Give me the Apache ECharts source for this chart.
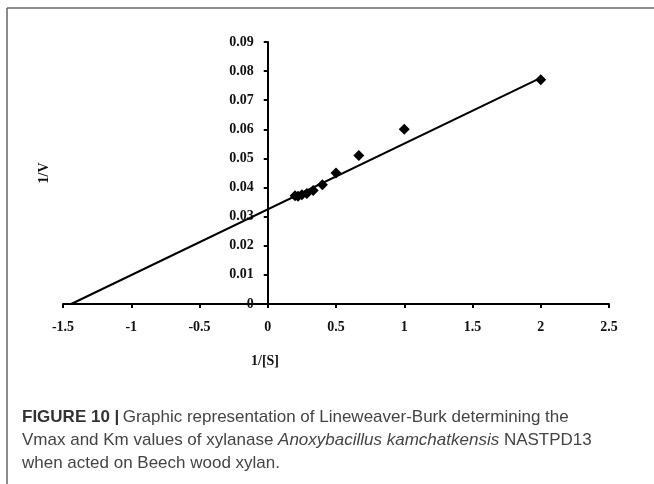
<!DOCTYPE html>
<html>
<head>
<meta charset="utf-8">
<script src="https://cdn.jsdelivr.net/npm/echarts@6/dist/echarts.min.js"></script>
<style>
  html, body { margin: 0; padding: 0; background: #fff; }
  #chart { width: 654px; height: 484px; }
</style>
</head>
<body>
<div id="chart"></div>
<script>
// Lineweaver-Burk plot: reciprocal substrate concentration vs reciprocal velocity
const inverseS = [2, 1, 0.667, 0.5, 0.4, 0.333, 0.286, 0.25, 0.222, 0.2];
const inverseV = [0.077, 0.060, 0.051, 0.045, 0.041, 0.039, 0.038, 0.0375, 0.037, 0.0372];

// Linear fit endpoints: x-intercept (-1/Km) up to the last measured point
const fitX = [-1.44, 2];
const fitY = [0, 0.0777];

const xTicks = { min: -1.5, max: 2.5, step: 0.5 };
const yTicks = { min: 0, max: 0.09, step: 0.01 };

const captionLines = [
  'Graphic representation of Lineweaver-Burk determining the',
  'Vmax and Km values of xylanase ',
  'when acted on Beech wood xylan.'
];

const serif = '"Liberation Serif", "Times New Roman", serif';
const sans = '"Liberation Sans", Arial, Helvetica, sans-serif';

const gridLeft = 63, gridWidth = 546;
// horizontal distance from the grid's left edge to x = 0, where the y axis crosses
const zeroOffset = gridWidth * (0 - xTicks.min) / (xTicks.max - xTicks.min);

const chart = echarts.init(document.getElementById('chart'), null, { renderer: 'canvas' });

chart.setOption({
  animation: false,
  backgroundColor: '#fff',
  grid: { left: gridLeft, top: 42, width: gridWidth, height: 262, containLabel: false, outerBoundsMode: 'none' },
  xAxis: {
    type: 'value',
    min: xTicks.min,
    max: xTicks.max,
    interval: xTicks.step,
    splitLine: { show: false },
    axisLine: { show: true, onZero: true, lineStyle: { color: '#000', width: 2 } },
    axisTick: { show: true, inside: false, length: 4, lineStyle: { color: '#000', width: 2 } },
    axisLabel: {
      margin: 16,
      color: '#111',
      fontFamily: serif,
      fontWeight: 'bold',
      fontSize: 14,
      formatter: v => String(Number(v.toFixed(2)))
    }
  },
  yAxis: {
    type: 'value',
    min: yTicks.min,
    max: yTicks.max,
    interval: yTicks.step,
    offset: -zeroOffset,
    name: '1/V',
    nameLocation: 'middle',
    nameRotate: 90,
    nameGap: 216,
    nameTextStyle: { color: '#111', fontFamily: serif, fontWeight: 'bold', fontSize: 14 },
    splitLine: { show: false },
    axisLine: { show: true, onZero: false, lineStyle: { color: '#000', width: 2 } },
    axisTick: { show: true, inside: false, length: 4, lineStyle: { color: '#000', width: 2 } },
    axisLabel: {
      margin: 14,
      color: '#111',
      fontFamily: serif,
      fontWeight: 'bold',
      fontSize: 14,
      formatter: v => String(Number(v.toFixed(2)))
    }
  },
  series: [
    {
      type: 'line',
      data: fitX.map((x, i) => [x, fitY[i]]),
      showSymbol: false,
      symbol: 'none',
      lineStyle: { color: '#000', width: 2 },
      z: 2
    },
    {
      type: 'scatter',
      data: inverseS.map((x, i) => [x, inverseV[i]]),
      symbol: 'diamond',
      symbolSize: 11,
      itemStyle: { color: '#000', opacity: 1 },
      z: 3
    }
  ],
  graphic: [
    // frame around the figure
    { type: 'line', shape: { x1: 7, y1: 8, x2: 654, y2: 8 }, style: { stroke: '#666', lineWidth: 1.5 } },
    { type: 'line', shape: { x1: 7, y1: 8, x2: 7, y2: 484 }, style: { stroke: '#666', lineWidth: 1.5 } },
    // x axis title
    {
      type: 'text', left: 251, top: 354,
      style: { text: '1/[S]', fill: '#111', font: 'bold 14px ' + serif }
    },
    // caption
    {
      type: 'text', left: 22, top: 406,
      style: {
        text: '{b|FIGURE 10 |} {r|' + captionLines[0] + '}\n' +
              '{r|' + captionLines[1] + '}{i|Anoxybacillus kamchatkensis}{r| NASTPD13}\n' +
              '{r|' + captionLines[2] + '}',
        lineHeight: 23,
        rich: {
          b: { font: 'bold 17px ' + sans, fill: '#333', lineHeight: 23 },
          r: { font: '17px ' + sans, fill: '#444', lineHeight: 23 },
          i: { font: 'italic 17px ' + sans, fill: '#444', lineHeight: 23 }
        }
      }
    }
  ]
});
</script>
</body>
</html>
